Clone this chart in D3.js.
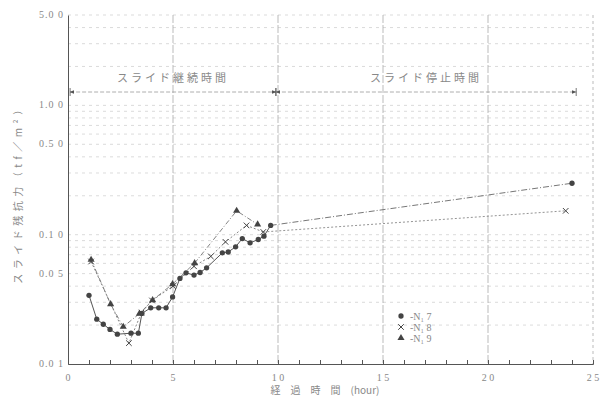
<!DOCTYPE html>
<html>
<head>
<meta charset="utf-8">
<script src="https://cdn.jsdelivr.net/npm/d3@7"></script>
<style>
  body { margin: 0; background: #fff; }
  svg { display: block; }
</style>
</head>
<body>
<div id="chart"></div>
<script>
// No.7 (filled circles)
const no7Hours = [1.0, 1.37, 1.68, 2.0, 2.35, 3.0, 3.35, 3.52, 3.94, 4.32, 4.67, 4.98, 5.33, 5.62, 6.0, 6.29, 6.6, 7.35, 7.63, 7.98, 8.3, 8.67, 9.06, 9.33, 9.65];
const no7Values = [0.034, 0.0222, 0.0203, 0.0185, 0.017, 0.0173, 0.0173, 0.0246, 0.0272, 0.0272, 0.0272, 0.033, 0.0459, 0.0507, 0.0487, 0.051, 0.0554, 0.0724, 0.0735, 0.0805, 0.0934, 0.0865, 0.0918, 0.0973, 0.118];
const no7StopHours = [9.65, 24.0];
const no7StopValues = [0.118, 0.25];
// No.8 (crosses)
const no8Hours = [1.1, 2.9, 3.5, 4.0, 5.0, 6.0, 6.8, 7.5, 8.5, 9.3];
const no8Values = [0.062, 0.0145, 0.025, 0.031, 0.04, 0.057, 0.068, 0.088, 0.118, 0.105];
const no8StopHours = [9.3, 23.7];
const no8StopValues = [0.105, 0.153];
// No.9 (triangles)
const no9Hours = [1.1, 2.03, 2.63, 3.4, 4.03, 4.98, 6.03, 8.03, 9.03];
const no9Values = [0.064, 0.029, 0.0194, 0.0245, 0.0312, 0.0415, 0.0603, 0.153, 0.12];

const xTicks = [0, 5, 10, 15, 20, 25];
const xTickLabels = ['0', '5', '1 0', '1 5', '2 0', '2 5'];
const yTicks = [5, 1, 0.5, 0.1, 0.05, 0.01];
const yTickLabels = ['5.0 0', '1.0 0', '0.5 0', '0.1 0', '0.0 5', '0.0 1'];
const legendNames = ['N\u2081 7', 'N\u2081 8', 'N\u2081 9'];

const width = 606, height = 401;
const svg = d3.select('#chart').append('svg')
  .attr('width', width).attr('height', height);

const x = d3.scaleLinear().domain([0, 25]).range([68, 593]);
const y = d3.scaleLog().domain([0.01, 5]).range([364, 15]);

const ink = '#555';
const textCol = '#888';
const numFont = '"Liberation Serif", "DejaVu Serif", serif';
const jpFont = '"Noto Sans CJK JP", sans-serif';

// horizontal grid (log paper)
const gridVals = [];
[0.01, 0.1, 1].forEach(d => {
  for (let k = 1; k < 10; k++) {
    const v = d * k;
    if (v > 0.01 && v <= 5) gridVals.push(v);
  }
});
svg.append('g').selectAll('line').data(gridVals).join('line')
  .attr('x1', x(0)).attr('x2', x(25))
  .attr('y1', d => y(d)).attr('y2', d => y(d))
  .attr('stroke', '#ccc')
  .attr('stroke-width', 0.7)
  .attr('stroke-dasharray', '3,4');

// vertical grid
svg.append('g').selectAll('line').data([5, 10, 15, 20, 25]).join('line')
  .attr('x1', d => x(d)).attr('x2', d => x(d))
  .attr('y1', y(5)).attr('y2', y(0.01))
  .attr('stroke', '#aaa')
  .attr('stroke-width', 0.8)
  .attr('stroke-dasharray', d => d === 25 ? '3,3' : '8,2');

// axes
const xAxis = d3.axisBottom(x).ticks(25).tickSize(-4).tickFormat('');
svg.append('g').attr('transform', `translate(0,${y(0.01)})`).call(xAxis)
  .call(g => g.selectAll('path,line').attr('stroke', ink));
const yAxis = d3.axisLeft(y).tickValues([]).tickSize(0);
svg.append('g').attr('transform', `translate(${x(0)},0)`).call(yAxis)
  .call(g => g.select('path').attr('stroke', ink));

svg.append('g').selectAll('text').data(xTicks).join('text')
  .attr('x', d => x(d)).attr('y', 381)
  .attr('text-anchor', 'middle')
  .attr('font-family', numFont).attr('font-size', 10)
  .attr('fill', textCol)
  .text((d, i) => xTickLabels[i]);

svg.append('g').selectAll('text').data(yTicks).join('text')
  .attr('x', 64).attr('y', d => y(d) + 3)
  .attr('text-anchor', 'end')
  .attr('font-family', numFont).attr('font-size', 10)
  .attr('letter-spacing', 1)
  .attr('fill', textCol)
  .text((d, i) => yTickLabels[i]);

// axis titles
svg.append('text')
  .attr('x', 325).attr('y', 394)
  .attr('text-anchor', 'middle')
  .attr('font-family', jpFont).attr('font-size', 10)
  .attr('fill', textCol)
  .text('経\u2003過\u2003時\u2003間\u2003(hour)');

svg.append('text')
  .attr('transform', 'translate(22,192) rotate(-90)')
  .attr('text-anchor', 'middle')
  .attr('font-family', jpFont).attr('font-size', 10)
  .attr('letter-spacing', 4.5)
  .attr('fill', textCol)
  .text('スライド残抗力（tf／m²）');

// period arrows
const periods = [
  { label: 'スライド継続時間', from: 0.1, to: 9.9 },
  { label: 'スライド停止時間', from: 9.9, to: 24.2 }
];
const defs = svg.append('defs');
defs.append('marker').attr('id', 'arr').attr('viewBox', '0 0 10 10')
  .attr('refX', 9).attr('refY', 5).attr('markerWidth', 6).attr('markerHeight', 6)
  .attr('orient', 'auto-start-reverse')
  .append('path').attr('d', 'M0,1L10,5L0,9z').attr('fill', ink);

const pg = svg.append('g');
periods.forEach(p => {
  pg.append('line')
    .attr('x1', x(p.from)).attr('x2', x(p.to))
    .attr('y1', 92).attr('y2', 92)
    .attr('stroke', '#999').attr('stroke-width', 0.8)
    .attr('stroke-dasharray', '4,2')
    .attr('marker-start', 'url(#arr)').attr('marker-end', 'url(#arr)');
  [p.from, p.to].forEach(v => pg.append('line')
    .attr('x1', x(v)).attr('x2', x(v)).attr('y1', 88).attr('y2', 96)
    .attr('stroke', ink).attr('stroke-width', 0.8));
  pg.append('text')
    .attr('x', (x(p.from) + x(p.to)) / 2).attr('y', 82)
    .attr('text-anchor', 'middle')
    .attr('font-family', jpFont).attr('font-size', 11)
    .attr('letter-spacing', 3)
    .attr('fill', textCol)
    .text(p.label);
});

// series
const line = d3.line().x(d => x(d[0])).y(d => y(d[1]));
const zip = (a, b) => a.map((v, i) => [v, b[i]]);

const s7 = zip(no7Hours, no7Values), s8 = zip(no8Hours, no8Values), s9 = zip(no9Hours, no9Values);

svg.append('path').datum(s7).attr('d', line)
  .attr('fill', 'none').attr('stroke', ink).attr('stroke-width', 1);
svg.append('path').datum(zip(no7StopHours, no7StopValues)).attr('d', line)
  .attr('fill', 'none').attr('stroke', '#777').attr('stroke-width', 1)
  .attr('stroke-dasharray', '6,2,1,2');
svg.append('path').datum(s8).attr('d', line)
  .attr('fill', 'none').attr('stroke', '#777').attr('stroke-width', 0.9)
  .attr('stroke-dasharray', '2,2');
svg.append('path').datum(zip(no8StopHours, no8StopValues)).attr('d', line)
  .attr('fill', 'none').attr('stroke', '#888').attr('stroke-width', 0.9)
  .attr('stroke-dasharray', '2,2');
svg.append('path').datum(s9).attr('d', line)
  .attr('fill', 'none').attr('stroke', '#777').attr('stroke-width', 0.9)
  .attr('stroke-dasharray', '5,2,1,2');

const circ = d3.symbol(d3.symbolCircle, 22);
const tri = d3.symbol(d3.symbolTriangle, 22);
const cross = d3.symbol(d3.symbolX, 22);

svg.append('g').selectAll('path').data(s7.concat([[no7StopHours[1], no7StopValues[1]]])).join('path')
  .attr('transform', d => `translate(${x(d[0])},${y(d[1])})`)
  .attr('d', circ).attr('fill', '#444');
svg.append('g').selectAll('path').data(s8.concat([[no8StopHours[1], no8StopValues[1]]])).join('path')
  .attr('transform', d => `translate(${x(d[0])},${y(d[1])})`)
  .attr('d', cross).attr('fill', 'none').attr('stroke', '#444').attr('stroke-width', 1);
svg.append('g').selectAll('path').data(s9).join('path')
  .attr('transform', d => `translate(${x(d[0])},${y(d[1])})`)
  .attr('d', tri).attr('fill', '#444');

// legend
const lg = svg.append('g');
const syms = [circ, cross, tri];
legendNames.forEach((n, i) => {
  const ly = 316 + i * 11;
  lg.append('path').attr('transform', `translate(401,${ly})`)
    .attr('d', syms[i])
    .attr('fill', i === 1 ? 'none' : '#444')
    .attr('stroke', i === 1 ? '#444' : 'none');
  lg.append('text').attr('x', 410).attr('y', ly + 4)
    .attr('font-family', numFont).attr('font-size', 10)
    .attr('fill', textCol)
    .text('-' + n);
});
</script>
</body>
</html>
